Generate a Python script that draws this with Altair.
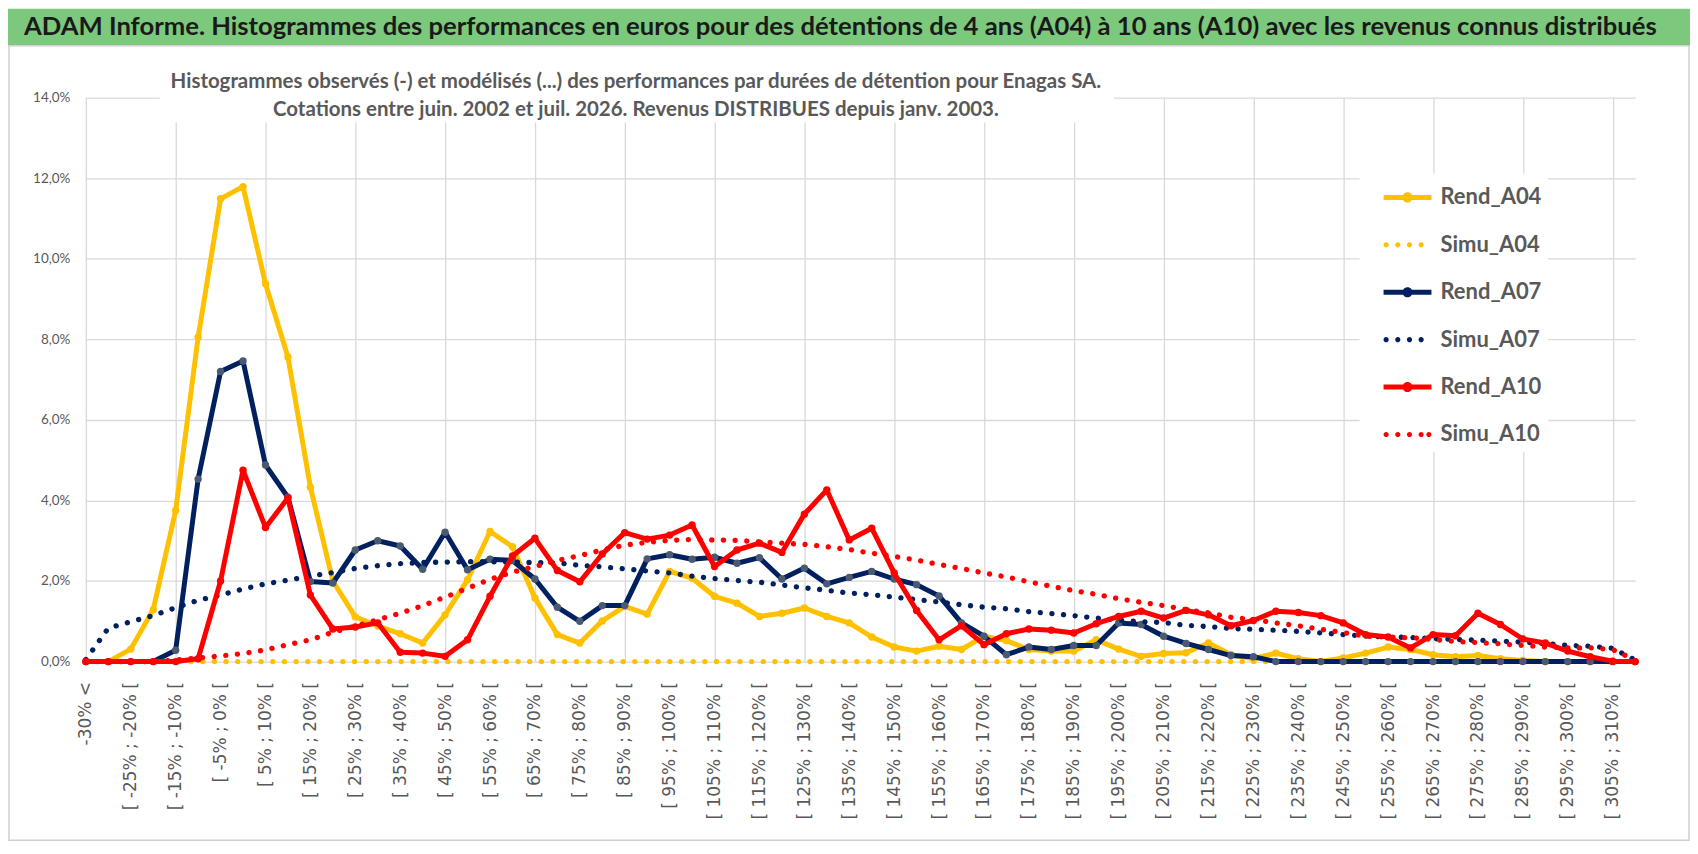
import json
import altair as alt
import pandas as pd

# ---------------- data ----------------
categories = [
    "-30% <", "[ -30% ; -25% [", "[ -25% ; -20% [", "[ -20% ; -15% [", "[ -15% ; -10% [",
    "[ -10% ; -5% [", "[ -5% ; 0% [", "[ 0% ; 5% [", "[ 5% ; 10% [", "[ 10% ; 15% [",
    "[ 15% ; 20% [", "[ 20% ; 25% [", "[ 25% ; 30% [", "[ 30% ; 35% [", "[ 35% ; 40% [",
    "[ 40% ; 45% [", "[ 45% ; 50% [", "[ 50% ; 55% [", "[ 55% ; 60% [", "[ 60% ; 65% [",
    "[ 65% ; 70% [", "[ 70% ; 75% [", "[ 75% ; 80% [", "[ 80% ; 85% [", "[ 85% ; 90% [",
    "[ 90% ; 95% [", "[ 95% ; 100% [", "[ 100% ; 105% [", "[ 105% ; 110% [", "[ 110% ; 115% [",
    "[ 115% ; 120% [", "[ 120% ; 125% [", "[ 125% ; 130% [", "[ 130% ; 135% [", "[ 135% ; 140% [",
    "[ 140% ; 145% [", "[ 145% ; 150% [", "[ 150% ; 155% [", "[ 155% ; 160% [", "[ 160% ; 165% [",
    "[ 165% ; 170% [", "[ 170% ; 175% [", "[ 175% ; 180% [", "[ 180% ; 185% [", "[ 185% ; 190% [",
    "[ 190% ; 195% [", "[ 195% ; 200% [", "[ 200% ; 205% [", "[ 205% ; 210% [", "[ 210% ; 215% [",
    "[ 215% ; 220% [", "[ 220% ; 225% [", "[ 225% ; 230% [", "[ 230% ; 235% [", "[ 235% ; 240% [",
    "[ 240% ; 245% [", "[ 245% ; 250% [", "[ 250% ; 255% [", "[ 255% ; 260% [", "[ 260% ; 265% [",
    "[ 265% ; 270% [", "[ 270% ; 275% [", "[ 275% ; 280% [", "[ 280% ; 285% [", "[ 285% ; 290% [",
    "[ 290% ; 295% [", "[ 295% ; 300% [", "[ 300% ; 305% [", "[ 305% ; 310% [", "310% >",
]

rend_a04 = [0, 0, 0.31, 1.29, 3.75, 8.05, 11.49, 11.79, 9.38, 7.56,
            4.33, 2.00, 1.11, 0.89, 0.69, 0.46, 1.16, 2.03, 3.23, 2.85,
            1.58, 0.67, 0.46, 1.01, 1.37, 1.18, 2.24, 2.07, 1.62, 1.45,
            1.12, 1.20, 1.33, 1.12, 0.96, 0.61, 0.36, 0.26, 0.38, 0.30,
            0.63, 0.52, 0.30, 0.26, 0.26, 0.54, 0.31, 0.13, 0.20, 0.22,
            0.46, 0.17, 0.07, 0.21, 0.07, 0.00, 0.09, 0.21, 0.36, 0.30,
            0.17, 0.12, 0.15, 0.07, 0.03, 0, 0, 0, 0, 0]

simu_a04 = [0, 0, 0, 0, 0, 0, 0, 0, 0, 0,
            0, 0, 0, 0, 0, 0, 0, 0, 0, 0,
            0, 0, 0, 0, 0, 0, 0, 0, 0, 0,
            0, 0, 0, 0, 0, 0, 0, 0, 0, 0,
            0, 0, 0, 0, 0, 0, 0, 0, 0, 0,
            0, 0, 0, 0, 0, 0, 0, 0, 0, 0,
            0, 0, 0, 0, 0, 0, 0, 0, 0, 0]

rend_a07 = [0, 0, 0, 0, 0.28, 4.53, 7.20, 7.46, 4.88, 4.08,
            1.99, 1.95, 2.77, 3.00, 2.87, 2.29, 3.21, 2.28, 2.54, 2.51,
            2.05, 1.35, 1.00, 1.39, 1.39, 2.55, 2.65, 2.54, 2.59, 2.44,
            2.58, 2.05, 2.32, 1.93, 2.09, 2.24, 2.05, 1.91, 1.63, 0.96,
            0.63, 0.17, 0.36, 0.30, 0.40, 0.40, 0.96, 0.92, 0.63, 0.45,
            0.30, 0.15, 0.12, 0, 0, 0, 0, 0, 0, 0,
            0, 0, 0, 0, 0, 0, 0, 0, 0, 0]

simu_a07 = [0.05, 0.83, 0.99, 1.14, 1.34, 1.52, 1.65, 1.80, 1.93, 2.02,
            2.12, 2.21, 2.31, 2.38, 2.43, 2.46, 2.47, 2.48, 2.48, 2.47,
            2.46, 2.45, 2.39, 2.35, 2.30, 2.25, 2.20, 2.12, 2.06, 2.01,
            1.97, 1.90, 1.83, 1.77, 1.70, 1.66, 1.60, 1.54, 1.48, 1.41,
            1.35, 1.31, 1.24, 1.19, 1.14, 1.08, 1.03, 0.99, 0.97, 0.90,
            0.87, 0.82, 0.80, 0.78, 0.75, 0.71, 0.67, 0.63, 0.61, 0.60,
            0.57, 0.55, 0.53, 0.51, 0.48, 0.45, 0.40, 0.38, 0.33, 0.04]

rend_a10 = [0, 0, 0, 0, 0, 0.07, 2.00, 4.75, 3.33, 4.06,
            1.65, 0.81, 0.86, 0.96, 0.23, 0.21, 0.13, 0.54, 1.62, 2.62,
            3.06, 2.26, 1.98, 2.67, 3.20, 3.04, 3.14, 3.39, 2.36, 2.77,
            2.94, 2.71, 3.66, 4.26, 3.02, 3.31, 2.20, 1.27, 0.54, 0.89,
            0.42, 0.69, 0.81, 0.78, 0.71, 0.94, 1.12, 1.25, 1.08, 1.27,
            1.16, 0.89, 1.02, 1.25, 1.22, 1.14, 0.96, 0.67, 0.61, 0.34,
            0.67, 0.64, 1.20, 0.92, 0.56, 0.46, 0.26, 0.12, 0.01, 0]

simu_a10 = [0, 0, 0, 0, 0.04, 0.09, 0.14, 0.20, 0.29, 0.42,
            0.54, 0.73, 0.88, 1.04, 1.20, 1.39, 1.60, 1.82, 2.04, 2.22,
            2.36, 2.51, 2.63, 2.77, 2.89, 2.96, 3.01, 3.03, 3.02, 3.01,
            2.97, 2.94, 2.91, 2.85, 2.78, 2.69, 2.61, 2.52, 2.41, 2.31,
            2.20, 2.10, 1.98, 1.87, 1.76, 1.67, 1.56, 1.47, 1.39, 1.29,
            1.21, 1.10, 1.04, 0.96, 0.89, 0.80, 0.72, 0.63, 0.61, 0.59,
            0.55, 0.50, 0.47, 0.44, 0.40, 0.36, 0.34, 0.34, 0.30, 0.04]

series_names = ["Rend_A04", "Simu_A04", "Rend_A07", "Simu_A07", "Rend_A10", "Simu_A10"]
series_values = [rend_a04, simu_a04, rend_a07, simu_a07, rend_a10, simu_a10]
series_colors = ["#FFC000", "#FFC000", "#002060", "#002060", "#FF0000", "#FF0000"]
marker_colors = {"Rend_A04": "#FFC000", "Rend_A07": "#4A5A72", "Rend_A10": "#FF0000"}

y_ticks = [0, 2, 4, 6, 8, 10, 12, 14]

main_title = ("ADAM Informe. Histogrammes des performances en euros pour des détentions "
              "de 4 ans (A04) à 10 ans (A10) avec les revenus connus distribués")
sub_line1 = ("Histogrammes observés (-) et modélisés (...) des performances par durées "
             "de détention pour Enagas SA.")
sub_line2 = "Cotations entre juin. 2002 et juil. 2026. Revenus DISTRIBUES depuis janv. 2003."

rows = []
for name, vals in zip(series_names, series_values):
    for i, v in enumerate(vals):
        rows.append({"idx": i, "cat": categories[i], "series": name, "value": v})
df = pd.DataFrame(rows)

GRID = "#d9d9d9"
TXT = "#595959"

x_enc = alt.X(
    "idx:Q",
    scale=alt.Scale(domain=[0, len(categories) - 1], nice=False, zero=False),
    axis=alt.Axis(
        values=list(range(0, len(categories) - 1, 2)),
        labelExpr=json.dumps(categories) + "[datum.value]",
        labelAngle=270, labelPadding=20, labelFontSize=17, labelFont="DejaVu Sans",
        labelColor=TXT, domain=False, ticks=False, grid=True, gridColor=GRID,
        gridWidth=1.3,
        gridOpacity={"condition": {"test": "datum.value % 4 === 0", "value": 1}, "value": 0},
        labelOverlap=False, labelFlush=False, labelBound=False, title=None,
    ),
)
y_enc = alt.Y(
    "value:Q",
    scale=alt.Scale(domain=[0, 14], nice=False),
    axis=alt.Axis(
        values=y_ticks,
        labelExpr="replace(format(datum.value, '.1f'), '.', ',') + '%'",
        labelFontSize=13.5, labelFont="Lato", labelColor=TXT, labelPadding=16,
        domain=False, ticks=False, grid=True, gridColor=GRID, gridWidth=1.3, title=None,
    ),
)

base = alt.Chart(df).encode(x=x_enc, y=y_enc)

data_layers = []
for name, col in zip(series_names, series_colors):
    sub = base.transform_filter(alt.datum.series == name)
    if name.startswith("Rend"):
        data_layers.append(sub.mark_line(color=col, strokeWidth=5, strokeJoin="round", strokeCap="round"))
        data_layers.append(sub.mark_circle(color=marker_colors[name], size=55, opacity=1))
    else:
        data_layers.append(sub.mark_line(color=col, strokeWidth=5.3, strokeDash=[0.1, 11.6],
                                         strokeCap="round"))

# legend symbols (SVG paths, unit = 18 px)
def dot(cx, r=0.144):
    return f"M{cx - r:.3f},0A{r},{r} 0 1,1 {cx + r:.3f},0A{r},{r} 0 1,1 {cx - r:.3f},0Z"

rend_path = ("M-1.333,-0.139L1.333,-0.139L1.333,0.139L-1.333,0.139Z"
             "M-0.28,0A0.28,0.28 0 1,1 0.28,0A0.28,0.28 0 1,1 -0.28,0Z")
simu4_path = "".join(dot(c) for c in [-1.19, -0.54, 0.11, 0.76])
simu5_path = "".join(dot(c) for c in [-1.19, -0.54, 0.11, 0.76, 1.19])
legend_shapes = [rend_path, simu4_path, rend_path, simu4_path, rend_path, simu5_path]

leg = alt.Legend(
    title=None, orient="none", legendX=1276, legendY=76, fillColor="white",
    padding=6, symbolOffset=24, labelOffset=15, rowPadding=18.5,
    labelFontSize=22, labelFont="Lato", labelFontWeight="bold", labelColor=TXT,
    symbolStrokeWidth=0, symbolSize=1296, symbolOpacity=1,
    labelExpr="datum.label + '\u2003\u2003\u2003\u2002'",
)
legend_layer = (
    alt.Chart(df).transform_filter("false")
    .mark_point(filled=True, size=1296, opacity=1, strokeWidth=0)
    .encode(
        x=x_enc, y=y_enc,
        fill=alt.Fill("series:N", scale=alt.Scale(domain=series_names, range=series_colors), legend=leg),
        shape=alt.Shape("series:N", scale=alt.Scale(domain=series_names, range=legend_shapes), legend=leg),
    )
)

deco = alt.Chart(pd.DataFrame({"k": [0]}))
green_bar = deco.mark_rect(color="#7CC87C").encode(
    x=alt.value(-78), x2=alt.value(1607), y=alt.value(-89), y2=alt.value(-52))
frame = deco.mark_rect(fillOpacity=0, stroke="#d0d0d0", strokeWidth=1.5).encode(
    x=alt.value(-77), x2=alt.value(1606), y=alt.value(-52), y2=alt.value(744))
sub_box = deco.mark_rect(color="white").encode(
    x=alt.value(74), x2=alt.value(1030), y=alt.value(-37), y2=alt.value(25))
title_text = deco.mark_text(
    text=main_title, align="left", baseline="middle", font="Lato", fontSize=25.7,
    fontWeight="bold", color="#1a1a1a").encode(x=alt.value(-62), y=alt.value(-71))
sub1 = deco.mark_text(
    text=sub_line1, align="center", baseline="middle", font="Lato", fontSize=20.5,
    fontWeight="bold", color=TXT).encode(x=alt.value(551), y=alt.value(-16))
sub2 = deco.mark_text(
    text=sub_line2, align="center", baseline="middle", font="Lato", fontSize=20.5,
    fontWeight="bold", color=TXT).encode(x=alt.value(551), y=alt.value(12))

chart = alt.layer(
    green_bar, frame, sub_box, title_text, sub1, sub2, *data_layers, legend_layer
).properties(
    width=1552, height=565,
    autosize=alt.AutoSizeParams(type="none"),
    padding={"left": 78, "top": 89, "right": 55, "bottom": 180},
    background="white",
).configure_view(strokeWidth=0)

chart.save("out.html", embed_options={"renderer": "svg", "actions": False})
